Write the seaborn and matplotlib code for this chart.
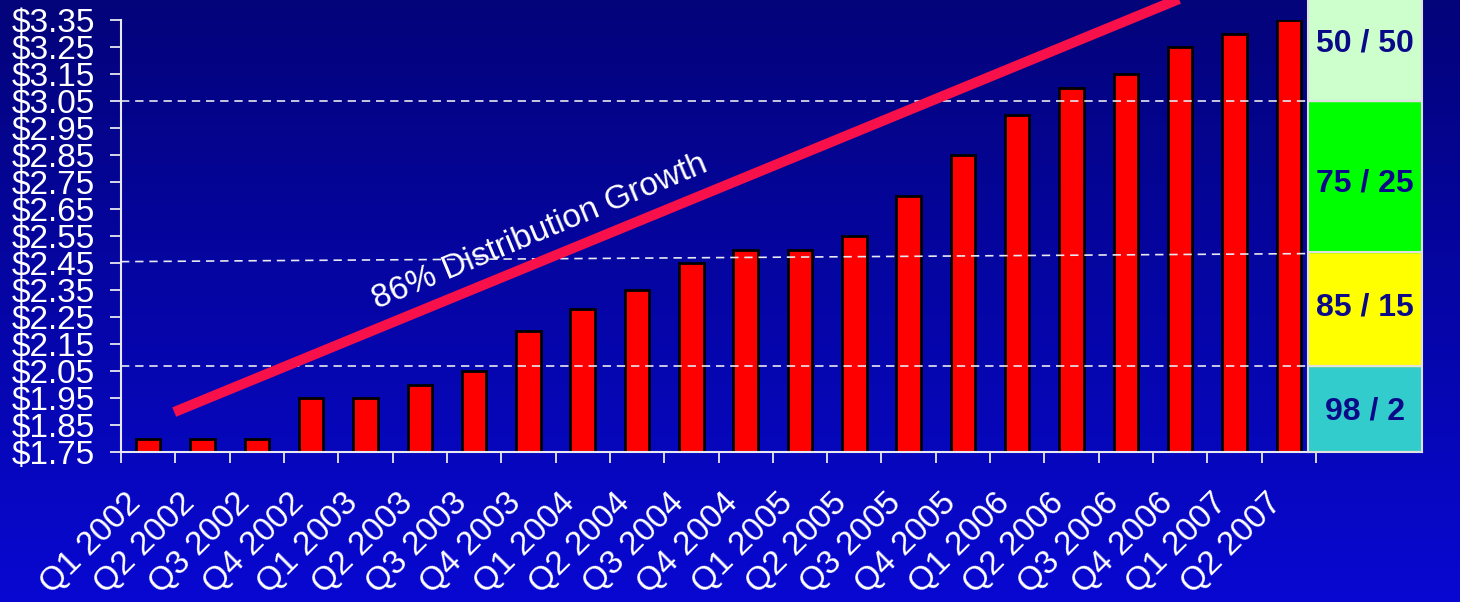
import numpy as np
import pandas as pd
import matplotlib
matplotlib.use("Agg")
import matplotlib.pyplot as plt
import matplotlib.transforms as mtransforms
from matplotlib.colors import LinearSegmentedColormap
import seaborn as sns

# ---------------- data ----------------
quarters = ["Q1 2002", "Q2 2002", "Q3 2002", "Q4 2002",
            "Q1 2003", "Q2 2003", "Q3 2003", "Q4 2003",
            "Q1 2004", "Q2 2004", "Q3 2004", "Q4 2004",
            "Q1 2005", "Q2 2005", "Q3 2005", "Q4 2005",
            "Q1 2006", "Q2 2006", "Q3 2006", "Q4 2006",
            "Q1 2007", "Q2 2007"]
prices = [1.80, 1.80, 1.80, 1.95,
          1.95, 2.00, 2.05, 2.20,
          2.28, 2.35, 2.45, 2.50,
          2.50, 2.55, 2.70, 2.85,
          3.00, 3.10, 3.15, 3.25,
          3.30, 3.35]
ytick_values = [1.75, 1.85, 1.95, 2.05, 2.15, 2.25, 2.35, 2.45, 2.55,
                2.65, 2.75, 2.85, 2.95, 3.05, 3.15, 3.25, 3.35]
ytick_labels = ["$1.75", "$1.85", "$1.95", "$2.05", "$2.15", "$2.25",
                "$2.35", "$2.45", "$2.55", "$2.65", "$2.75", "$2.85",
                "$2.95", "$3.05", "$3.15", "$3.25", "$3.35"]
# threshold (dashed) lines: (left value, right value)
threshold_lines = [(3.05, 3.05), (2.455, 2.485), (2.07, 2.07)]
# trend arrow: start / end (category position, value)
trend_x = [0.48, 19.5]
trend_y = [1.898, 3.471]
trend_label = "86% Distribution Growth"
# side panel bands (bottom, top) and labels
band_bottoms = [1.75, 2.07, 2.49, 3.05]
band_tops = [2.07, 2.49, 3.05, 3.45]
band_colors = ["#33CCCC", "#FFFF00", "#00FF00", "#CCFFCC"]
band_labels = ["98 / 2", "85 / 15", "75 / 25", "50 / 50"]
band_label_y = [1.90, 2.284, 2.744, 3.262]

df = pd.DataFrame({"quarter": quarters, "price": prices})

# ---------------- figure ----------------
W, H = 1460, 602
fig = plt.figure(figsize=(W / 100, H / 100), dpi=100)
plt.rcParams["font.family"] = ["Liberation Sans", "DejaVu Sans"]

# background gradient
bg = fig.add_axes([0, 0, 1, 1], zorder=-10)
cmap = LinearSegmentedColormap.from_list("bg", ["#03037A", "#0808D2"])
grad = np.linspace(0, 1, 256).reshape(-1, 1)
bg.imshow(grad, aspect="auto", cmap=cmap, extent=[0, 1, 0, 1], origin="upper")
bg.set_axis_off()

def fx(px):
    return px / W

def fy(py):
    return 1 - py / H

ax = fig.add_axes([fx(121), fy(452), fx(1316) - fx(121), fy(20) - fy(452)])
ax.set_facecolor("none")

sns.barplot(data=df, x="quarter", y="price", ax=ax, color="#FF0000",
            edgecolor="black", linewidth=2.0, width=0.45, saturation=1)

n = len(quarters)
ax.set_xlim(-0.5, n - 0.5)
ax.set_ylim(1.75, 3.35)
ax.set_xlabel("")
ax.set_ylabel("")

ax.set_yticks(ytick_values)
ax.set_yticklabels(ytick_labels)
ax.tick_params(axis="y", colors="#E8E8F0", labelcolor="white", length=8,
               width=1.3, pad=10.5, labelsize=24, direction="out")

ax.set_xticks(range(n))
ax.set_xticklabels(quarters)
ax.set_xticks(np.arange(-0.5, n, 1.0), minor=True)
ax.tick_params(axis="x", which="major", length=0, pad=0, labelsize=24,
               labelcolor="white")
ax.tick_params(axis="x", which="minor", length=8, width=1.3,
               colors="#E8E8F0", direction="out")
off = mtransforms.ScaledTranslation(-23 / 100, -35 / 100, fig.dpi_scale_trans)
for lab in ax.get_xticklabels():
    lab.set_rotation(45)
    lab.set_ha("right")
    lab.set_va("top")
    lab.set_rotation_mode("anchor")
    lab.set_transform(lab.get_transform() + off)

for s in ["top", "right"]:
    ax.spines[s].set_visible(False)
for s in ["left", "bottom"]:
    ax.spines[s].set_color("#E8E8F0")
    ax.spines[s].set_linewidth(1.5)

# dashed thresholds
for yl, yr in threshold_lines:
    ax.plot([-0.5, n - 0.5], [yl, yr], color="#E8E8F0", lw=1.2,
            ls=(0, (5, 3.5)), zorder=5)

# trend line
ax.plot(trend_x, trend_y, color="#F8104A", lw=7.3, solid_capstyle="butt",
        clip_on=False, zorder=6)
ax.text(7.27, 2.535, trend_label, color="white", fontsize=24,
        rotation=22.6, rotation_mode="anchor", ha="center", va="baseline",
        zorder=7)

# side panel
pax = fig.add_axes([fx(1308), fy(452), fx(1422) - fx(1308), fy(0) - fy(452)],
                   zorder=3)
pax.set_xlim(0, 1)
pax.set_ylim(1.75, 1.75 + 452 / 270)
for b, t, c in zip(band_bottoms, band_tops, band_colors):
    pax.axhspan(b, t, color=c, zorder=1)
    pax.axhline(b, color="#E0E0E0", lw=1.5, zorder=2)
for lab, yv in zip(band_labels, band_label_y):
    pax.text(0.5, yv, lab, ha="center", va="center", fontsize=23,
             fontweight="bold", color="#0A0A88", zorder=3)
pax.set_xticks([])
pax.set_yticks([])
for s in pax.spines.values():
    s.set_color("#E0E0E0")
    s.set_linewidth(1.5)
pax.spines["top"].set_visible(False)

fig.savefig("out.png", dpi=100)
